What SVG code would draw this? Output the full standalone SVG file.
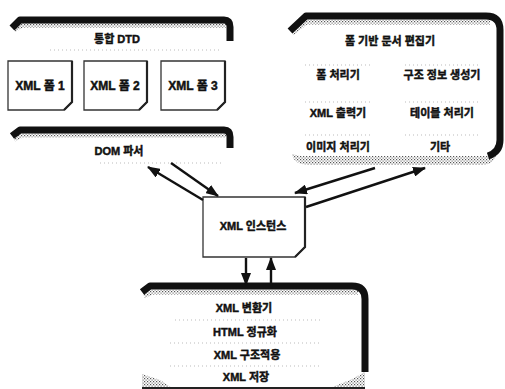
<svg xmlns="http://www.w3.org/2000/svg" width="505" height="389" viewBox="0 0 505 389">
<defs>
<marker id="ah" markerUnits="userSpaceOnUse" markerWidth="13" markerHeight="10" refX="12" refY="5" orient="auto"><path d="M0,0 L13,5 L0,10 Z" fill="#111"/></marker>
<pattern id="dith" width="3" height="3" patternUnits="userSpaceOnUse"><rect width="3" height="3" fill="#fff"/><rect x="0" y="0" width="1.2" height="1.2" fill="#555"/><rect x="1.5" y="1.5" width="1.2" height="1.2" fill="#777"/></pattern>
</defs>
<style>
text{font-family:"Liberation Sans","Noto Sans CJK KR",sans-serif;font-weight:bold;fill:#111;stroke:#111;stroke-width:0.45;text-anchor:middle;font-size:11px}
.band{fill:none;stroke:#111;stroke-width:7;stroke-linejoin:round}
.shade{fill:none;stroke:url(#dith);stroke-width:5}
.box{fill:#fff;stroke:#333;stroke-width:1.3}
.edge{fill:none;stroke:#222;stroke-width:2.2}
.faint{fill:none;stroke:#bbb;stroke-width:1;stroke-dasharray:1 3}
.conn{fill:none;stroke:#111;stroke-width:2.4;marker-end:url(#ah)}
.f{font-size:12px}
</style>
<rect width="505" height="389" fill="#fff"/>

<g id="dtd">
<path class="shade" d="M14,30 L22,25 L226,25"/>
<path class="band" d="M12,28 L20,20 L224,20 Q230,20 230,27 L230,41"/>
<line class="faint" x1="50" y1="50" x2="222" y2="50"/>
<text x="117" y="43">통합 DTD</text>
</g>

<g id="form1">
<path class="box" d="M8,61 L72,61 L72,102 L64,110 L8,110 Z"/>
<path class="edge" d="M72,61 L72,102 L64,110"/>
<text class="f" x="40" y="90">XML 폼 1</text>
</g>
<g id="form2">
<path class="box" d="M84,61 L147,61 L147,102 L139,110 L84,110 Z"/>
<path class="edge" d="M147,61 L147,102 L139,110"/>
<text class="f" x="115" y="90">XML 폼 2</text>
</g>
<g id="form3">
<path class="box" d="M161,61 L225,61 L225,102 L217,110 L161,110 Z"/>
<path class="edge" d="M225,61 L225,102 L217,110"/>
<text class="f" x="193" y="90">XML 폼 3</text>
</g>

<g id="dom">
<path class="shade" d="M14,139 L22,135 L226,135"/>
<path class="band" d="M12,136 L20,130 L224,130 Q230,130 230,137 L230,148"/>
<line class="faint" x1="100" y1="163" x2="222" y2="163"/>
<text x="119" y="155">DOM 파서</text>
</g>

<g id="editor">
<path d="M292,154 Q294,165 310,165 L482,165 Q494,165 497,152 L490,156 L300,156 Z" fill="url(#dith)" stroke="none"/>
<path class="shade" d="M292,33 L306,22 L490,22"/>
<path class="band" d="M290,31 L306,16 L486,16 Q500,16 500,30 L500,140 Q500,152 488,156"/>
<text x="390" y="45">폼 기반 문서 편집기</text>
<line class="faint" x1="305" y1="65" x2="372" y2="65"/>
<line class="faint" x1="405" y1="65" x2="480" y2="65"/>
<text x="338" y="79">폼 처리기</text>
<text x="442" y="79">구조 정보 생성기</text>
<line class="faint" x1="305" y1="102" x2="372" y2="102"/>
<line class="faint" x1="405" y1="102" x2="480" y2="102"/>
<text x="338" y="117">XML 출력기</text>
<text x="442" y="117">테이블 처리기</text>
<line class="faint" x1="305" y1="135" x2="372" y2="135"/>
<line class="faint" x1="405" y1="135" x2="480" y2="135"/>
<text x="338" y="151">이미지 처리기</text>
<text x="440" y="151">기타</text>
</g>

<g id="instance">
<path class="box" d="M203,197 L305,197 L305,247 L295,257 L203,257 Z"/>
<path class="edge" d="M305,197 L305,247 L295,257"/>
<text x="253" y="230">XML 인스턴스</text>
</g>

<g id="converter">
<path d="M142,374 L142,388 L172,388 L160,380 Z" fill="url(#dith)" stroke="none"/>
<path d="M365,372 L365,388 L330,388 L350,380 Z" fill="url(#dith)" stroke="none"/>
<path class="shade" d="M144,296 L152,292 L358,292"/>
<path class="band" d="M142,292 L150,286 L352,286 Q365,286 365,299 L365,372"/>
<line x1="142" y1="388" x2="365" y2="388" stroke="#222" stroke-width="2"/>
<text x="244" y="312">XML 변환기</text>
<line class="faint" x1="175" y1="320" x2="320" y2="320"/>
<text x="245" y="336">HTML 정규화</text>
<line class="faint" x1="170" y1="343" x2="320" y2="343"/>
<text x="247" y="359">XML 구조적용</text>
<line class="faint" x1="170" y1="366" x2="320" y2="366"/>
<text x="246" y="381">XML 저장</text>
</g>

<g id="connectors">
<line class="conn" x1="203" y1="200" x2="148" y2="167"/>
<line class="conn" x1="171" y1="163" x2="218" y2="196"/>
<line class="conn" x1="375" y1="168" x2="295" y2="193"/>
<line class="conn" x1="306" y1="207" x2="425" y2="168"/>
<line class="conn" x1="246" y1="258" x2="246" y2="285"/>
<line class="conn" x1="271" y1="285" x2="271" y2="258"/>
</g>
</svg>
